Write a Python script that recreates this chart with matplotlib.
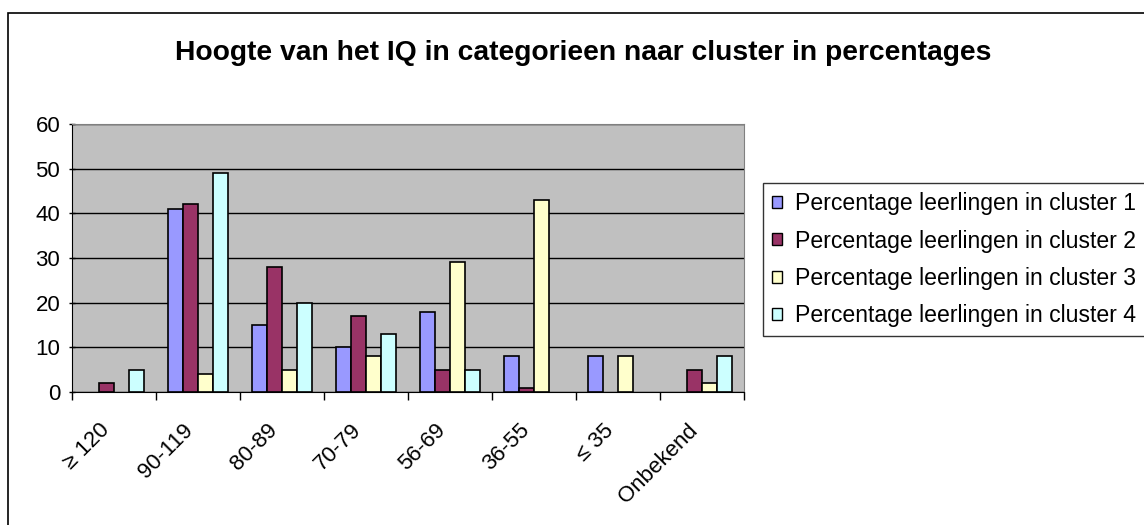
import matplotlib
matplotlib.use("Agg")
import matplotlib.pyplot as plt
import matplotlib.transforms as mtransforms
import numpy as np
from matplotlib.patches import Rectangle, Patch

# IQ categories and percentages per cluster
categories = ["≥ 120", "90-119", "80-89", "70-79", "56-69", "36-55", "≤ 35", "Onbekend"]
cluster1 = [0, 41, 15, 10, 18, 8, 8, 0]
cluster2 = [2, 42, 28, 17, 5, 1, 0, 5]
cluster3 = [0, 4, 5, 8, 29, 43, 8, 2]
cluster4 = [5, 49, 20, 13, 5, 0, 0, 8]
series_names = ["Percentage leerlingen in cluster 1", "Percentage leerlingen in cluster 2",
                "Percentage leerlingen in cluster 3", "Percentage leerlingen in cluster 4"]
colors = ["#9999FF", "#993366", "#FFFFCC", "#CCFFFF"]

plt.rcParams["font.family"] = ["Liberation Sans", "DejaVu Sans"]

fig = plt.figure(figsize=(11.44, 5.25), dpi=100)
# outer chart border (clipped at right/bottom as in the reference)
fig.patches.append(Rectangle((8 / 1144, -0.05), 1.1, 1 - 13 / 525 + 0.05,
                             transform=fig.transFigure, fill=False,
                             edgecolor="black", linewidth=1.2))

ax = fig.add_axes([72 / 1144, 1 - 392 / 525, 672 / 1144, 268 / 525])
ax.set_facecolor("#C0C0C0")

x = np.arange(len(categories))
w = 0.18
for i, (vals, c) in enumerate(zip([cluster1, cluster2, cluster3, cluster4], colors)):
    bars = ax.bar(x + (i - 1.5) * w, vals, w, color=c, edgecolor="black", linewidth=1.2,
                  zorder=3)
    for b, v in zip(bars, vals):
        if v == 0:
            b.set_visible(False)  # empty bars are not drawn in the original

ax.set_xlim(-0.5, len(categories) - 0.5)
ax.set_ylim(0, 60)
ax.set_yticks(range(0, 61, 10))
ax.yaxis.grid(True, color="black", linewidth=1)
ax.set_axisbelow(True)

ax.set_xticks(np.arange(-0.5, len(categories), 1))
ax.set_xticklabels([])
ax.set_xticks(x, minor=True)
ax.set_xticklabels(categories, minor=True, rotation=45, ha="right", rotation_mode="anchor",
                   fontsize=16)
ax.tick_params(axis="x", which="minor", length=0, pad=20)
ax.tick_params(axis="x", which="major", length=6, width=1, direction="out")
ax.tick_params(axis="y", labelsize=16, length=5, width=1, direction="inout", pad=6)

shift = mtransforms.ScaledTranslation(-15 / 100, 0, fig.dpi_scale_trans)
for lab in ax.get_xticklabels(minor=True):
    lab.set_transform(lab.get_transform() + shift)

ax.spines["top"].set_color("#808080")
ax.spines["right"].set_color("#808080")
ax.spines["left"].set_color("black")
ax.spines["bottom"].set_color("black")

fig.text(583 / 1144, 1 - 53 / 525, "Hoogte van het IQ in categorieen naar cluster in percentages",
         ha="center", va="center", fontsize=20.3, fontweight="bold")

handles = [Patch(facecolor=c, edgecolor="black", linewidth=1) for c in colors]
leg = ax.legend(handles, series_names, loc="upper left", bbox_to_anchor=(763 / 1144, 1 - 183 / 525),
                bbox_transform=fig.transFigure, fontsize=16.6, frameon=True, fancybox=False,
                handlelength=0.43, handleheight=0.43, handletextpad=0.55, labelspacing=0.62,
                borderpad=0.4, borderaxespad=0)
leg.get_frame().set_edgecolor("black")
leg.get_frame().set_linewidth(1)

fig.savefig("out.png", dpi=100)
